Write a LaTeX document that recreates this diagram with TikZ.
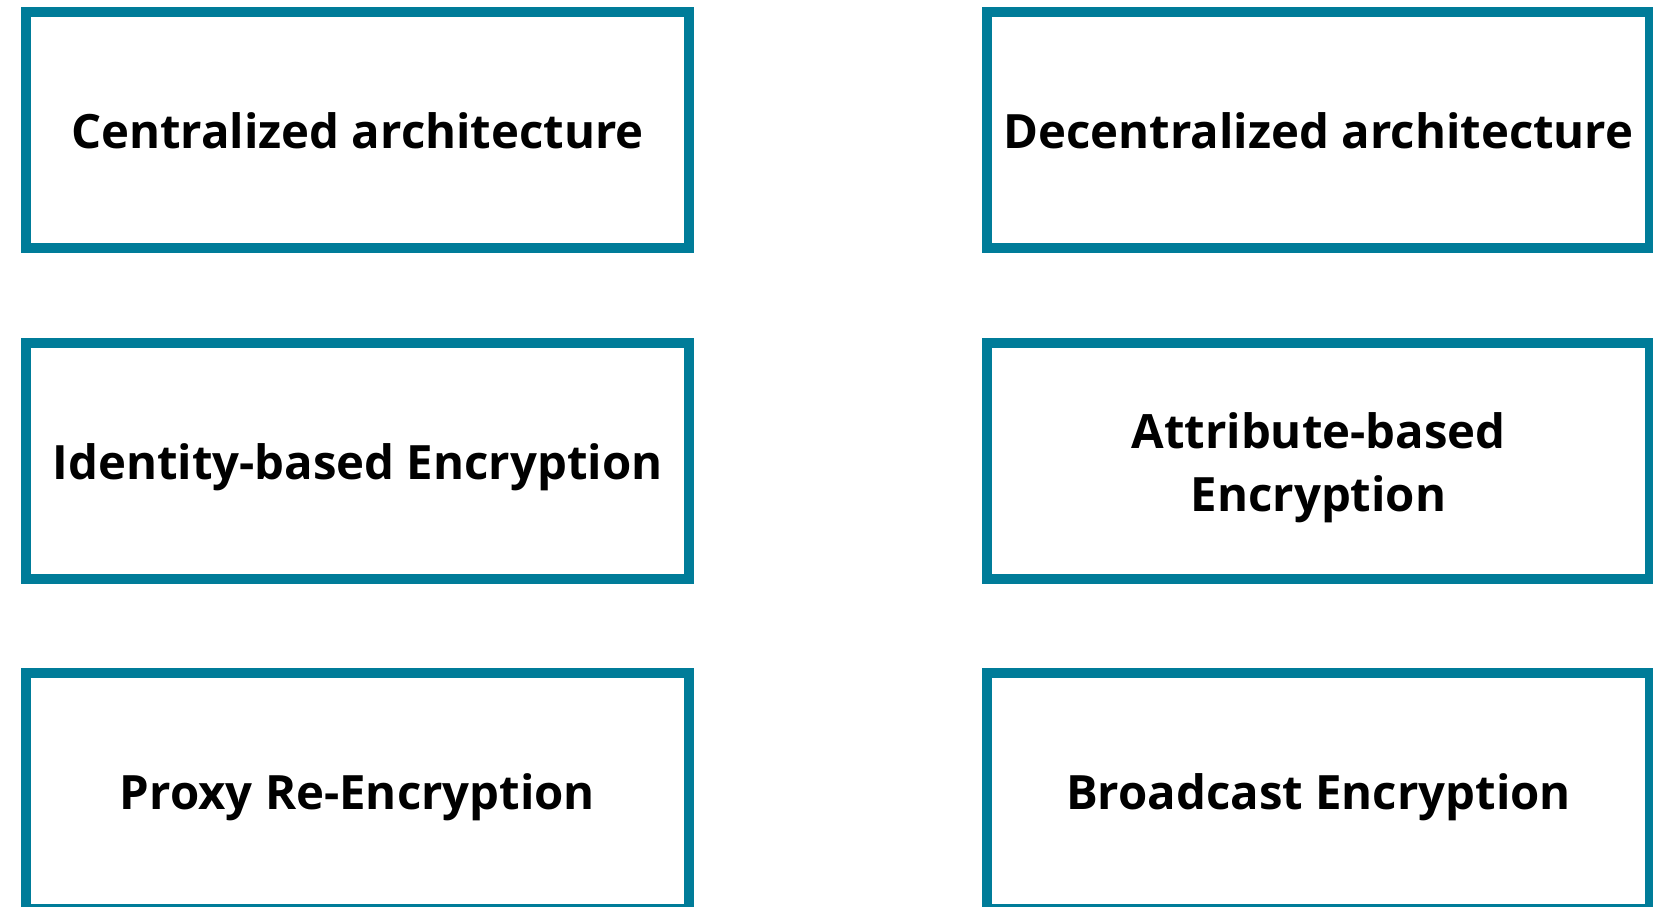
\documentclass[tikz,border=0pt]{standalone}
\usepackage{fontspec}
\setmainfont{Open Sans}
\definecolor{frame}{RGB}{0,124,153}
% invisible strut that fixes every text line to the same height and depth
\newcommand\cardline{\rule[-12.3pt]{0pt}{62.3pt}}
\tikzset{
  card/.style={draw=frame, line width=10pt, fill=white, minimum width=663pt,
    minimum height=236pt, inner sep=0pt, align=center,
    font=\fontsize{47.3}{62.3}\selectfont\bfseries, text=black}
}
\begin{document}
\begin{tikzpicture}[x=1pt,y=-1pt]
  \useasboundingbox (0,0) rectangle (1653,906);
  \clip (0,0) rectangle (1653,906);
  \node[card] (central)   at (357.5,130) {\cardline Centralized architecture};
  \node[card] (decentral) at (1318.5,130) {\cardline Decentralized architecture};
  \node[card] (ibe)       at (357.5,461) {\cardline Identity-based Encryption};
  \node[card] (abe)       at (1318.5,461) {\cardline Attribute-based\\\cardline Encryption};
  \node[card] (pre)       at (357.5,791) {\cardline Proxy Re-Encryption};
  \node[card] (bcast)     at (1318.5,791) {\cardline Broadcast Encryption};
\end{tikzpicture}
\end{document}
